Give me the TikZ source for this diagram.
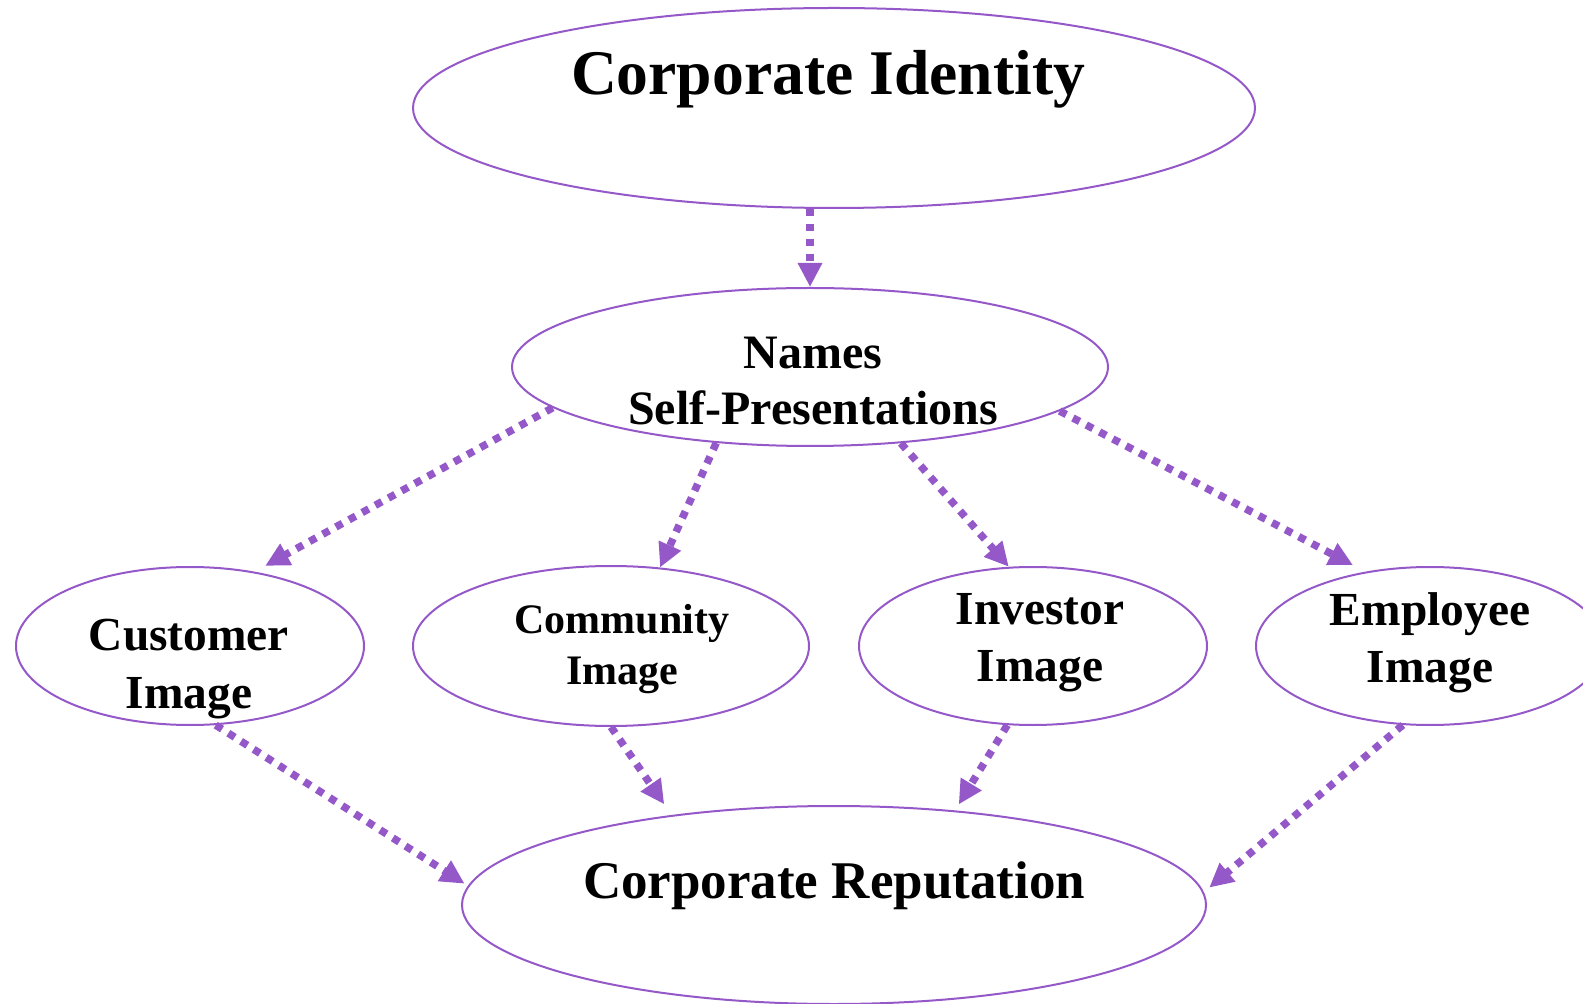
\documentclass[tikz,border=0pt]{standalone}
\usepackage{fontspec}
\setmainfont{Liberation Serif}
\usetikzlibrary{arrows.meta,shapes.geometric}
\definecolor{lilac}{HTML}{9558C8}
\tikzset{
  >={Triangle[length=12pt,width=11.5pt]},
  oval/.style={ellipse,draw=lilac,line width=1pt,inner sep=0pt},
  link/.style={->,draw=lilac,line width=3.75pt,dash pattern=on 3.75pt off 3.75pt},
  caption/.style={align=center,inner sep=0pt,text=black},
  bigcap/.style={caption,font=\fontsize{31.8}{36}\selectfont\bfseries},
  midcap/.style={caption,font=\fontsize{23.7}{28.5}\selectfont\bfseries},
}

\begin{document}
\begin{tikzpicture}[x=0.5pt,y=-0.5pt]
  \useasboundingbox (0,0) rectangle (1583,1004);
  \node[oval,minimum width=421pt,minimum height=100pt] (identity) at (834,108) {};
  \node[oval,minimum width=298pt,minimum height=79pt] (names) at (810,367) {};
  \node[oval,minimum width=174pt,minimum height=79pt] (customer) at (190,646) {};
  \node[oval,minimum width=198pt,minimum height=80pt] (community) at (611,646) {};
  \node[oval,minimum width=174pt,minimum height=79pt] (investor) at (1033,646) {};
  \node[oval,minimum width=174pt,minimum height=79pt] (employee) at (1430,646) {};
  \node[oval,minimum width=372pt,minimum height=99pt] (reputation) at (834,905) {};

  \node[bigcap] (identitytxt) at (828,79) {Corporate Identity};
  \node[midcap,font=\fontsize{24}{28.25}\selectfont\bfseries] (namestxt) at (813,381) {Names\\Self-Presentations};
  \node[midcap,font=\fontsize{23.7}{29.25}\selectfont\bfseries] (customertxt) at (189,669) {Customer\\Image};
  \node[midcap,font=\fontsize{21}{25.25}\selectfont\bfseries] (communitytxt) at (622,649) {Community\\Image};
  \node[midcap] (investortxt) at (1040,643) {Investor\\Image};
  \node[midcap] (employeetxt) at (1430,643) {Employee\\Image};
  \node[bigcap,font=\fontsize{26.5}{30}\selectfont\bfseries] (reputationtxt) at (834,886) {Corporate Reputation};

  \draw[link] (names.north |- identity.south) -- (names.north);
  \draw[link,shorten >=6pt] (names.189.8) -- (customer.49.6);
  \draw[link] (names.219) -- (community.58.1);
  \draw[link] (names.320.7) -- (investor.107.9);
  \draw[link,shorten >=7pt] (names.350.2) -- (employee.131.2);
  \draw[link,shorten >=2pt] (customer.288) -- (reputation.177.5);
  \draw[link,shorten >=6.5pt] (community.270) -- (reputation.151.9);
  \draw[link,shorten >=3.5pt] (investor.252) -- (reputation.38);
  \draw[link,shorten >=3.5pt] (employee.251.6) -- (reputation.2.4);
\end{tikzpicture}
\end{document}
